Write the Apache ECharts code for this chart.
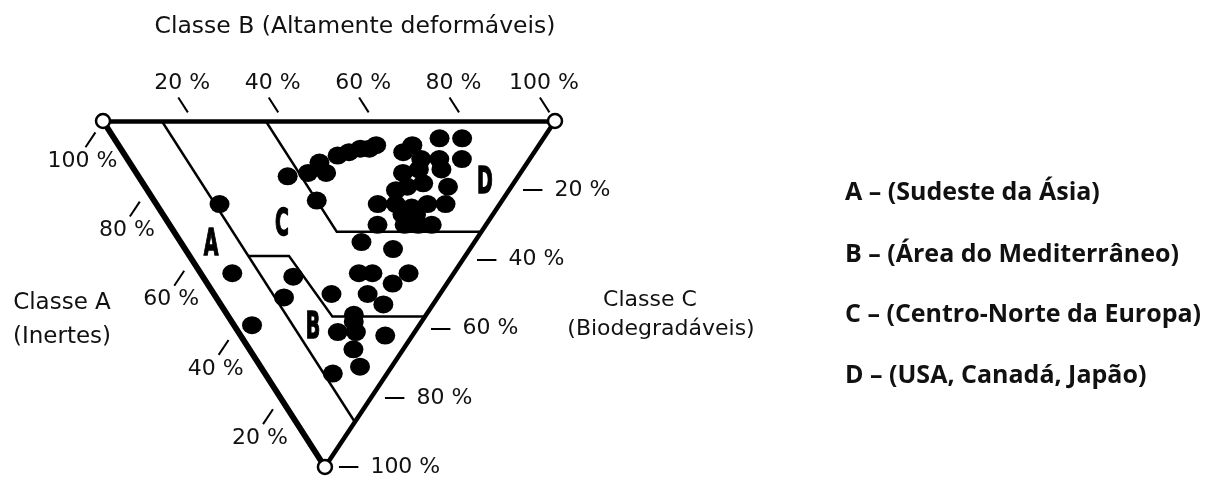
<!DOCTYPE html>
<html>
<head>
<meta charset="utf-8">
<script src="https://cdn.jsdelivr.net/npm/echarts@6/dist/echarts.min.js"></script>
<style>
  html, body { margin: 0; padding: 0; background: #fff; }
  #chart { width: 1215px; height: 477px; }
</style>
</head>
<body>
<div id="chart"></div>
<script>
// Ternary composition of solid waste: share of Classe B and Classe C (in %),
// Classe A is the remainder (100 - B - C).
const classB = [
  33, 38, 42, 42, 47, 50, 53, 55, 57, 62, 65, 72, 77, 69, 74, 65, 59, 63, 68,
  55, 58, 62, 67, 49, 53, 56, 60, 64, 53, 56, 46, 52, 55, 58, 36,
  40, 46, 35, 38, 46, 41, 34, 36, 26,
  20, 15, 28, 27, 26, 22, 32, 23, 22, 15,
  14, 7, 4
];
const classC = [
  16, 15, 12, 15, 10, 9, 8, 8, 7, 9, 7, 5, 5, 11, 11, 11, 15, 14, 14,
  20, 19, 18, 19, 24, 24, 25, 24, 24, 27, 27, 30, 30, 30, 30, 23,
  35, 37, 44, 44, 44, 47, 50, 53, 50,
  45, 51, 56, 58, 61, 61, 62, 66, 71, 73,
  24, 44, 59
];

// Axis ticks (percent) and their labels
const tickValues = [20, 40, 60, 80, 100];
const tickLabels = ['20 %', '40 %', '60 %', '80 %', '100 %'];

// Region boundaries, as [B %, C %] vertices
const borderAB = [[13, 0], [13, 87]];
const borderCD = [[36, 0], [36, 32], [68, 32]];
const borderBC = [[13, 39], [22, 39], [23, 56.5], [43.5, 56.5]];

// Legend
const regionNames = [
  'A – (Sudeste da Ásia)',
  'B – (Área do Mediterrâneo)',
  'C – (Centro-Norte da Europa)',
  'D – (USA, Canadá, Japão)'
];

// Horizontal position of the Classe C apex within the top edge (0..1)
const APEX = 0.491;

// ternary (fractions of B and C) -> cartesian data coordinates
function toXY(b, c) {
  return [b + c * APEX, 1 - c];
}
function pct(p) { return toXY(p[0] / 100, p[1] / 100); }

const TXT = '#111';
const FONT = 'DejaVu Sans';

// Triangle edges: top (A–B), left (A–C), right (B–C)
const vA = toXY(0, 0), vB = toXY(1, 0), vC = toXY(0, 1);
const edges = [
  { coords: [vA, vB], lineStyle: { width: 4.5 } },
  { coords: [vA, vC], lineStyle: { width: 6 } },
  { coords: [vB, vC], lineStyle: { width: 4.5 } }
];

// Tick marks, extending the grid lines beyond each edge
const tickSegs = [];
const topLabelPts = [], leftLabelPts = [], rightLabelPts = [];
tickValues.forEach((v, i) => {
  const f = v / 100;
  // Classe B ticks on the top edge
  const t0 = toXY(f, -0.025), t1 = toXY(f, -0.068);
  tickSegs.push({ coords: [t0, t1] });
  topLabelPts.push([t1[0], t1[1], tickLabels[i]]);
  // Classe A ticks on the left edge (A = f)
  const l0 = toXY(-0.033, 1 - f + 0.033), l1 = toXY(-0.076, 1 - f + 0.076);
  tickSegs.push({ coords: [l0, l1] });
  leftLabelPts.push([l1[0], l1[1], tickLabels[i]]);
  // Classe C ticks on the right edge (C = f)
  const r0 = toXY(1 - f + 0.031, f), r1 = toXY(1 - f + 0.074, f);
  tickSegs.push({ coords: [r0, r1] });
  rightLabelPts.push([r1[0], r1[1], tickLabels[i]]);
});

const dots = classB.map((b, i) => pct([b, classC[i]]));

const labelStyle = { show: true, color: TXT, fontFamily: FONT, fontSize: 22, formatter: p => p.data[2] };
const labelSeries = {
  type: 'scatter', clip: false, symbolSize: 0, silent: true,
  itemStyle: { opacity: 1 }
};

const chart = echarts.init(document.getElementById('chart'), null, { renderer: 'canvas' });
chart.setOption({
  animation: false,
  backgroundColor: '#fff',
  grid: { left: 103, top: 121, width: 452, height: 346 },
  xAxis: { type: 'value', min: 0, max: 1, show: false },
  yAxis: { type: 'value', min: 0, max: 1, show: false },
  series: [
    {
      type: 'lines', coordinateSystem: 'cartesian2d', clip: false, z: 3,
      lineStyle: { color: '#000', width: 4.5, opacity: 1, cap: 'round' },
      data: edges
    },
    {
      type: 'lines', coordinateSystem: 'cartesian2d', polyline: true, clip: false, z: 2,
      lineStyle: { color: '#000', width: 2.4, opacity: 1 },
      data: [borderAB, borderCD, borderBC].map(b => ({ coords: b.map(pct) }))
    },
    {
      type: 'lines', coordinateSystem: 'cartesian2d', clip: false, z: 2,
      lineStyle: { color: '#000', width: 2, opacity: 1 },
      data: tickSegs
    },
    {
      type: 'scatter', clip: false, symbolSize: [20, 18], z: 4,
      itemStyle: { color: '#000', opacity: 1 },
      data: dots
    },
    {
      type: 'scatter', clip: false, symbolSize: 14, z: 5,
      itemStyle: { color: '#fff', borderColor: '#000', borderWidth: 2.5, opacity: 1 },
      data: [vA, vB, vC]
    },
    Object.assign({}, labelSeries, {
      label: Object.assign({}, labelStyle, { position: 'top', distance: 3, offset: [4, 0] }),
      data: topLabelPts
    }),
    Object.assign({}, labelSeries, {
      label: Object.assign({}, labelStyle, { position: 'bottom', distance: 3, offset: [-3, 0] }),
      data: leftLabelPts
    }),
    Object.assign({}, labelSeries, {
      label: Object.assign({}, labelStyle, { position: 'right', distance: 12 }),
      data: rightLabelPts
    })
  ],
  graphic: [
    { type: 'text', x: 355, y: 27, style: { text: 'Classe B (Altamente deformáveis)', font: '23.5px ' + FONT, fill: TXT, textAlign: 'center', textVerticalAlign: 'middle' } },
    { type: 'text', x: 62, y: 303, style: { text: 'Classe A', font: '23px ' + FONT, fill: TXT, textAlign: 'center', textVerticalAlign: 'middle' } },
    { type: 'text', x: 62, y: 337, style: { text: '(Inertes)', font: '23px ' + FONT, fill: TXT, textAlign: 'center', textVerticalAlign: 'middle' } },
    { type: 'text', x: 650, y: 300, style: { text: 'Classe C', font: '22px ' + FONT, fill: TXT, textAlign: 'center', textVerticalAlign: 'middle' } },
    { type: 'text', x: 661, y: 329, style: { text: '(Biodegradáveis)', font: '22px ' + FONT, fill: TXT, textAlign: 'center', textVerticalAlign: 'middle' } },
    // Region letters inside the triangle
    ...[['A', 211, 245], ['C', 282, 225], ['D', 485, 183], ['B', 313, 328]].map(r => ({
      type: 'text', x: r[1], y: r[2], scaleX: 0.5,
      style: { text: r[0], font: 'bold 38px ' + FONT, fill: '#000', stroke: '#000', lineWidth: 1.5, textAlign: 'center', textVerticalAlign: 'middle' }
    })),
    // Legend
    ...regionNames.map((t, i) => ({
      type: 'text', x: 845, y: [193, 255, 315, 376][i],
      style: { text: t, font: 'bold 25px "Open Sans"', fill: '#111', textAlign: 'left', textVerticalAlign: 'middle' }
    }))
  ]
});
</script>
</body>
</html>
